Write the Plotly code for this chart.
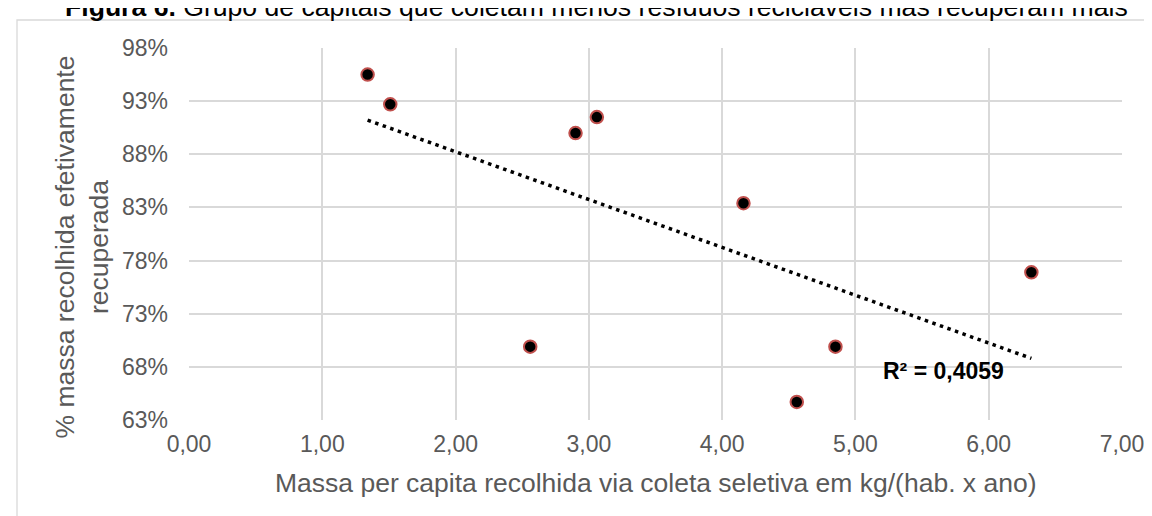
import numpy as np
import plotly.graph_objects as go

# Data
massa_per_capita = [1.34, 1.51, 2.90, 3.06, 4.16, 2.56, 4.85, 4.56, 6.32]
pct_recuperada = [95.5, 92.7, 90.0, 91.5, 83.4, 69.9, 69.9, 64.7, 76.9]
x_ticks = [0, 1, 2, 3, 4, 5, 6, 7]
x_tick_labels = ["0,00", "1,00", "2,00", "3,00", "4,00", "5,00", "6,00", "7,00"]
y_ticks = [63, 68, 73, 78, 83, 88, 93, 98]
y_tick_labels = ["63%", "68%", "73%", "78%", "83%", "88%", "93%", "98%"]
r2_label = "R² = 0,4059"
title_text = "<b>Figura 6.</b> Grupo de capitais que coletam menos resíduos recicláveis mas recuperam mais"
x_title = "Massa per capita recolhida via coleta seletiva em kg/(hab. x ano)"
y_title = "% massa recolhida efetivamente<br>recuperada"

# Linear trendline from the data
coef = np.polyfit(massa_per_capita, pct_recuperada, 1)
tx = np.array([min(massa_per_capita), max(massa_per_capita)])
ty = np.polyval(coef, tx)

FONT = "Liberation Sans, Arial, sans-serif"
W, H = 1152, 516
L, R, T, B = 181, 38, 40, 104
pw, ph = W - L - R, H - T - B

def px_to_paper_x(px):
    return (px - L) / pw

def px_to_paper_y(py):
    return (H - B - py) / ph

fig = go.Figure()
fig.add_trace(go.Scatter(
    x=tx, y=ty, mode="lines",
    line=dict(color="black", width=3.5, dash="3.5px,4.5px"),
    hoverinfo="skip", showlegend=False,
))
fig.add_trace(go.Scatter(
    x=massa_per_capita, y=pct_recuperada, mode="markers",
    marker=dict(color="black", size=12.5, line=dict(color="#C0504D", width=2)),
    showlegend=False,
))

fig.update_layout(
    width=W, height=H,
    margin=dict(l=L, r=R, t=T, b=B),
    paper_bgcolor="white", plot_bgcolor="white",
    font=dict(family=FONT, color="#595959", size=23),
    xaxis=dict(
        range=[0, 7], tickvals=x_ticks, ticktext=x_tick_labels,
        showgrid=True, gridcolor="#D9D9D9", gridwidth=1.6,
        zeroline=False, showline=False, ticks="",
        tickfont=dict(size=23, color="#595959"),
        ticklabelstandoff=8,
    ),
    yaxis=dict(
        range=[63, 98], tickvals=y_ticks, ticktext=y_tick_labels,
        showgrid=True, gridcolor="#D9D9D9", gridwidth=1.6,
        zeroline=False, showline=False, ticks="",
        tickfont=dict(size=23, color="#595959"),
        ticklabelstandoff=20,
    ),
    shapes=[
        dict(type="rect", xref="paper", yref="paper",
             x0=px_to_paper_x(9), x1=px_to_paper_x(1170),
             y0=px_to_paper_y(540), y1=px_to_paper_y(12),
             line=dict(color="#D9D9D9", width=1.3), fillcolor="rgba(0,0,0,0)", layer="below"),
    ],
    annotations=[
        dict(text=title_text, xref="paper", yref="paper",
             x=px_to_paper_x(588), y=px_to_paper_y(-1), xanchor="center", yanchor="middle",
             showarrow=False, font=dict(family=FONT, size=26.6, color="black")),
        dict(text=x_title, xref="paper", yref="paper",
             x=px_to_paper_x(648), y=px_to_paper_y(475), xanchor="center", yanchor="middle",
             showarrow=False, font=dict(family=FONT, size=26.5, color="#595959")),
        dict(text=y_title, xref="paper", yref="paper", textangle=-90,
             x=px_to_paper_x(73.5), y=px_to_paper_y(239), xanchor="center", yanchor="middle",
             showarrow=False, font=dict(family=FONT, size=26.5, color="#595959")),
        dict(text="<b>" + r2_label + "</b>", x=5.664, y=67.64, xref="x", yref="y",
             xanchor="center", yanchor="middle", showarrow=False,
             font=dict(family=FONT, size=23, color="black")),
    ],
)

fig.write_html("out.html")
